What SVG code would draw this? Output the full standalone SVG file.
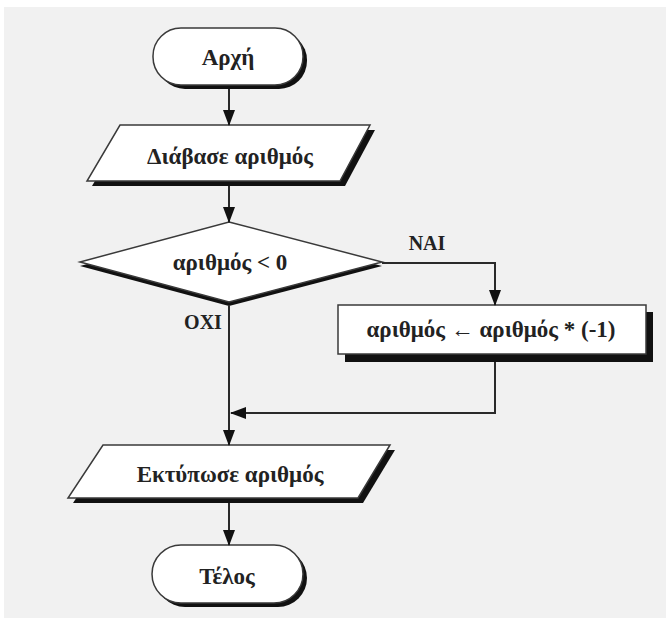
<svg xmlns="http://www.w3.org/2000/svg" width="666" height="618" viewBox="0 0 666 618">
<style>
.bg{fill:#f1f1f1}
.shape{fill:#ffffff;stroke:#3a3a3a;stroke-width:1.5}
.shadow{fill:#111111}
.lbl{font-family:"Liberation Serif","DejaVu Serif",serif;font-weight:bold;fill:#222;text-anchor:middle;dominant-baseline:central}
.node{font-size:23px}
.edge{font-size:20px}
.conn{fill:none;stroke:#2a2a2a;stroke-width:2}
</style>
<defs>
<marker id="arr" markerWidth="16" markerHeight="12" refX="15" refY="6" orient="auto" markerUnits="userSpaceOnUse" viewBox="0 0 16 12">
<path d="M0,0 L16,6 L0,12 Z" fill="#111"/>
</marker>
</defs>
<rect x="0" y="0" width="666" height="618" fill="#ffffff"/>
<rect class="bg" x="4" y="7" width="662" height="611"/>

<g id="start">
<rect class="shadow" x="157" y="32" width="150" height="57" rx="28" ry="28"/>
<rect class="shape" x="153" y="28" width="150" height="57" rx="28" ry="28"/>
<text class="lbl node" x="228" y="57">Αρχή</text>
</g>

<g id="read">
<polygon class="shadow" points="125,130 375,130 345,186 92,186"/>
<polygon class="shape" points="120,125 370,125 340,181 87,181"/>
<text class="lbl node" x="230" y="156">Διάβασε αριθμός</text>
</g>

<g id="decision">
<polygon class="shadow" points="229,226 382,266 229,306 80,266"/>
<polygon class="shape" points="229,222 382,262 229,302 80,262"/>
<text class="lbl node" x="230" y="262">αριθμός &lt; 0</text>
</g>

<g id="negate">
<rect class="shadow" x="345" y="312" width="308" height="50"/>
<rect class="shape" x="338" y="305" width="308" height="49"/>
<text class="lbl node" x="491" y="329">αριθμός ← αριθμός * (-1)</text>
</g>

<g id="print">
<polygon class="shadow" points="108,450 395,450 363,503 73,503"/>
<polygon class="shape" points="103,445 390,445 358,498 68,498"/>
<text class="lbl node" x="230" y="474">Εκτύπωσε αριθμός</text>
</g>

<g id="end">
<rect class="shadow" x="156" y="549" width="151" height="58" rx="29" ry="29"/>
<rect class="shape" x="152" y="545" width="151" height="58" rx="29" ry="29"/>
<text class="lbl node" x="227" y="576">Τέλος</text>
</g>

<g id="connectors">
<path class="conn" d="M229,89 L229,125" marker-end="url(#arr)"/>
<path class="conn" d="M229,186 L229,222" marker-end="url(#arr)"/>
<path class="conn" d="M382,263 L495,263 L495,305" marker-end="url(#arr)"/>
<path class="conn" d="M229,306 L229,445" marker-end="url(#arr)"/>
<path class="conn" d="M495,362 L495,413 L231,413" marker-end="url(#arr)"/>
<path class="conn" d="M229,503 L229,545" marker-end="url(#arr)"/>
<text class="lbl edge" x="427" y="243">NAI</text>
<text class="lbl edge" x="203" y="322">OXI</text>
</g>
</svg>
